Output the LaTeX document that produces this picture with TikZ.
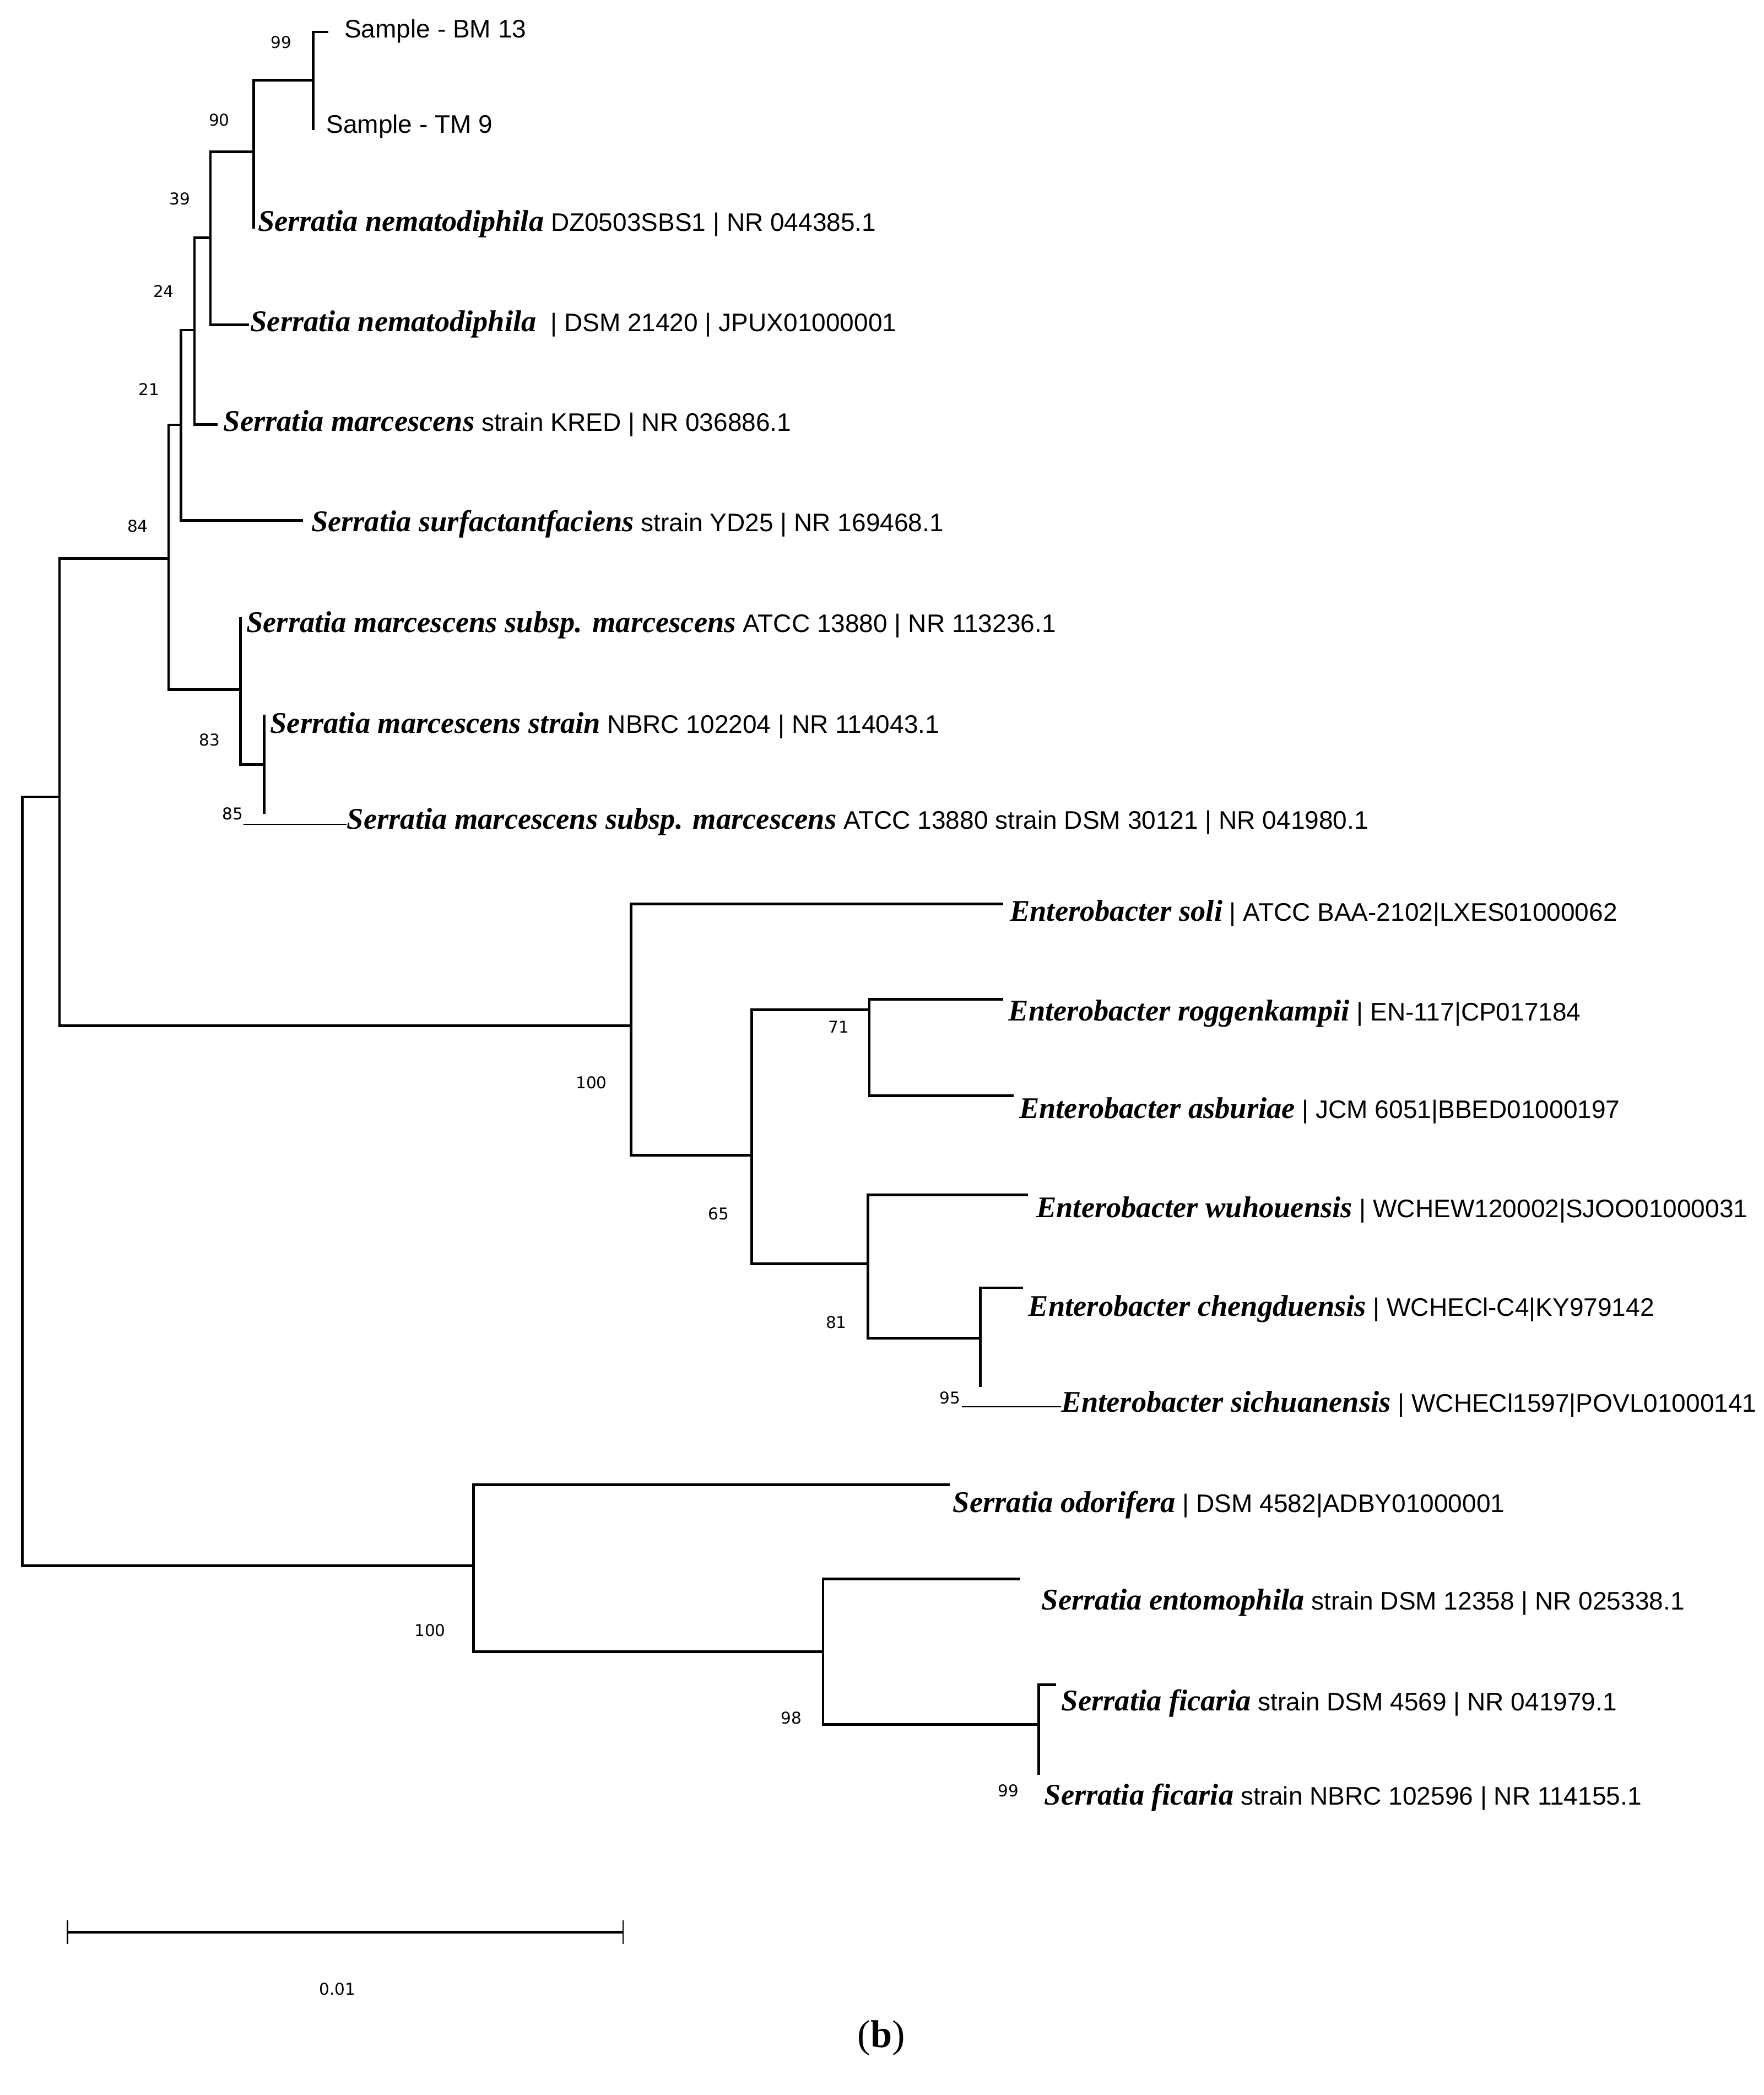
\documentclass[tikz,border=0pt]{standalone}
\usepackage{fontspec}
\setmainfont{Liberation Sans}
\newfontfamily\spf{Liberation Serif}
\newfontfamily\bsf{DejaVu Sans}
\newcommand{\sps}[1]{{\spf\fontsize{15.5}{17}\selectfont\bfseries\itshape #1}}
\begin{document}
\begin{tikzpicture}[x=0.02402cm,y=-0.02402cm,
  br/.style={line width=1.35pt,line cap=rect},
  thin/.style={line width=0.4pt},
  lf/.style={anchor=west,inner sep=0pt,font=\fontsize{13.1}{16}\selectfont},
  bs/.style={inner sep=0pt,font=\bsf\fontsize{8.4}{10}\selectfont}]
\useasboundingbox (0,0) rectangle (1333,1583);
% internal nodes
\coordinate (root) at (17,889);
\coordinate (nU) at (45,602);
\coordinate (n84) at (127.4,422);
\coordinate (n21) at (136.8,321);
\coordinate (n24) at (147,249.4);
\coordinate (n39) at (159,179.7);
\coordinate (n90) at (191.6,114.7);
\coordinate (n99) at (236.6,60.7);
\coordinate (n83) at (181.8,521);
\coordinate (n85) at (199.7,577.7);
\coordinate (nE) at (477,775);
\coordinate (n65) at (568,873);
\coordinate (n71) at (657,763);
\coordinate (n81) at (656,955);
\coordinate (n95) at (741,1011);
\coordinate (nS) at (358,1183);
\coordinate (n98) at (622,1248);
\coordinate (n99b) at (785,1303);
% leaf tips
\coordinate (tBM) at (247.2,24.2);
\coordinate (tTM) at (236.6,97.3);
\coordinate (tDZ) at (191.6,171.6);
\coordinate (tDSM) at (187,245.5);
\coordinate (tKR) at (163.6,320.7);
\coordinate (tSU) at (228,393.4);
\coordinate (tAT) at (181.8,467.3);
\coordinate (tNB) at (199.7,540.8);
\coordinate (tLo) at (199.7,613.9);
\coordinate (tTh) at (184,622.8);
\coordinate (tSo) at (757,683);
\coordinate (tRo) at (757,755);
\coordinate (tAs) at (765,828);
\coordinate (tWu) at (776,903);
\coordinate (tCh) at (772,973);
\coordinate (tSiL) at (741,1047);
\coordinate (tSi) at (727,1063);
\coordinate (tOd) at (717,1122);
\coordinate (tEn) at (770,1193);
\coordinate (tFD) at (797,1273);
\coordinate (tFN) at (785,1340);
% branches
\draw[br] (root) |- (nU); \draw[br] (root) |- (nS);
\draw[br] (nU) |- (n84); \draw[br] (nU) |- (nE);
\draw[br] (n84) |- (n21); \draw[br] (n84) |- (n83);
\draw[br] (n21) |- (n24); \draw[br] (n21) |- (tSU);
\draw[br] (n24) |- (n39); \draw[br] (n24) |- (tKR);
\draw[br] (n39) |- (n90); \draw[br] (n39) |- (tDSM);
\draw[br] (n90) |- (n99); \draw[br] (n90) |- (tDZ);
\draw[br] (n99) |- (tBM); \draw[br] (n99) |- (tTM);
\draw[br] (n83) |- (tAT); \draw[br] (n83) |- (n85);
\draw[br] (n85) |- (tNB); \draw[br] (n85) |- (tLo);
\draw[br] (nE) |- (tSo); \draw[br] (nE) |- (n65);
\draw[br] (n65) |- (n71); \draw[br] (n65) |- (n81);
\draw[br] (n71) |- (tRo); \draw[br] (n71) |- (tAs);
\draw[br] (n81) |- (tWu); \draw[br] (n81) |- (n95);
\draw[br] (n95) |- (tCh); \draw[br] (n95) |- (tSiL);
\draw[br] (nS) |- (tOd); \draw[br] (nS) |- (n98);
\draw[br] (n98) |- (tEn); \draw[br] (n98) |- (n99b);
\draw[br] (n99b) |- (tFD); \draw[br] (n99b) |- (tFN);
% leaf labels
\node[lf] (lBM) at (260,23.4) {Sample - BM 13};
\node[lf] (lTM) at (246.4,95.6) {Sample - TM 9};
\node[lf] (lDZ) at (194.6,169) {\sps{Serratia nematodiphila} DZ0503SBS1 | NR 044385.1};
\node[lf] (lDSM) at (189,245) {\sps{Serratia nematodiphila}\ \ | DSM 21420 | JPUX01000001};
\node[lf] (lKR) at (168.7,320) {\sps{Serratia marcescens} strain KRED | NR 036886.1};
\node[lf] (lSU) at (235,396) {\sps{Serratia surfactantfaciens} strain YD25 | NR 169468.1};
\node[lf] (lAT) at (186,472.4) {\sps{Serratia marcescens subsp. marcescens} ATCC 13880 | NR 113236.1};
\node[lf] (lNB) at (204,548) {\sps{Serratia marcescens strain} NBRC 102204 | NR 114043.1};
\node[lf] (lLo) at (262,621) {\sps{Serratia marcescens subsp. marcescens} ATCC 13880 strain DSM 30121 | NR 041980.1};
\draw[thin] (tTh) -- (lLo.west |- tTh);
\node[lf] (lSo) at (763,690) {\sps{Enterobacter soli} | ATCC BAA-2102|LXES01000062};
\node[lf] (lRo) at (762,766) {\sps{Enterobacter roggenkampii} | EN-117|CP017184};
\node[lf] (lAs) at (770,839) {\sps{Enterobacter asburiae} | JCM 6051|BBED01000197};
\node[lf] (lWu) at (783,914) {\sps{Enterobacter wuhouensis} | WCHEW120002|SJOO01000031};
\node[lf] (lCh) at (777,989) {\sps{Enterobacter chengduensis} | WCHECl-C4|KY979142};
\node[lf] (lSi) at (802,1061) {\sps{Enterobacter sichuanensis} | WCHECl1597|POVL01000141};
\draw[thin] (tSi) -- (lSi.west |- tSi);
\node[lf] (lOd) at (720,1137) {\sps{Serratia odorifera} | DSM 4582|ADBY01000001};
\node[lf] (lEn) at (787,1211) {\sps{Serratia entomophila} strain DSM 12358 | NR 025338.1};
\node[lf] (lFD) at (802,1287) {\sps{Serratia ficaria} strain DSM 4569 | NR 041979.1};
\node[lf] (lFN) at (789,1358) {\sps{Serratia ficaria} strain NBRC 102596 | NR 114155.1};
% bootstrap values
\node[bs] (b99) at (212.4,31.9) {99};
\node[bs] (b90) at (165.7,90.5) {90};
\node[bs] (b39) at (135.9,150) {39};
\node[bs] (b24) at (123.6,220) {24};
\node[bs] (b21) at (112.6,294) {21};
\node[bs] (b84) at (104,397.6) {84};
\node[bs] (b83) at (158.5,559) {83};
\node[bs] (b85) at (175.9,615) {85};
\node[bs] (b100a) at (447,818) {100};
\node[bs] (b65) at (543,917) {65};
\node[bs] (b71) at (634,776) {71};
\node[bs] (b81) at (632,999) {81};
\node[bs] (b95) at (718,1056) {95};
\node[bs] (b100b) at (325,1232) {100};
\node[bs] (b98) at (598,1298) {98};
\node[bs] (b99b) at (762,1353) {99};
% scale bar
\coordinate (sL) at (51,1460); \coordinate (sR) at (471,1460);
\draw[br,line cap=butt] (sL) -- (sR);
\draw[line width=0.7pt] ([yshift=-9*0.02402cm]sL) -- ([yshift=9*0.02402cm]sL);
\draw[line width=0.7pt] ([yshift=-9*0.02402cm]sR) -- ([yshift=9*0.02402cm]sR);
\node[bs] (sc) at (255,1503) {0.01};
\node[inner sep=0pt,font=\spf\fontsize{20}{24}\selectfont] (cap) at (666,1540) {(\textbf{b})};
\end{tikzpicture}
\end{document}
